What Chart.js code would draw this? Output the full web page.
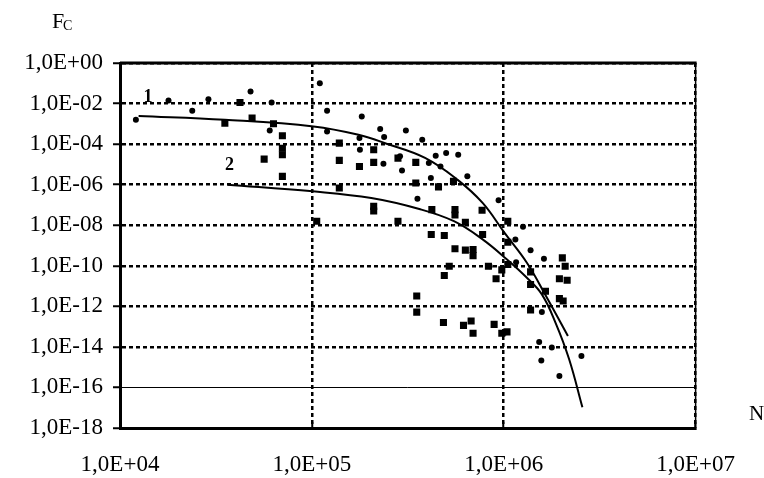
<!DOCTYPE html>
<html><head><meta charset="utf-8">
<script src="https://cdn.jsdelivr.net/npm/chart.js@4"></script>
<style>html,body{margin:0;padding:0;background:#fff;}#wrap{width:764px;height:478px;}</style>
</head><body><div id="wrap"><canvas id="c" width="764" height="478"></canvas></div>
<script>
const xTicks = [1e4, 1e5, 1e6, 1e7];
const xTickLabels = ['1,0E+04', '1,0E+05', '1,0E+06', '1,0E+07'];
const yTicks = [1e-18, 1e-16, 1e-14, 1e-12, 1e-10, 1e-8, 1e-6, 1e-4, 1e-2, 1];
const yTickLabels = ['1,0E-18', '1,0E-16', '1,0E-14', '1,0E-12', '1,0E-10', '1,0E-08', '1,0E-06', '1,0E-04', '1,0E-02', '1,0E+00'];

const circleN = [1.21e4,1.79e4,2.38e4,2.89e4,4.79e4,6.17e4,6.03e4,1.10e5,1.20e5,1.20e5,1.82e5,1.77e5,1.78e5,2.27e5,2.38e5,2.36e5,3.09e5,2.95e5,3.76e5,3.55e5,2.88e5,4.42e5,5.01e5,5.79e5,4.17e5,6.46e5,4.68e5,9.40e5,4.07e5,1.26e6,1.15e6,1.38e6,1.62e6,8.45e5,1.16e6,1.58e6,1.53e6,1.78e6,1.57e6,1.95e6,2.54e6,1.01e6];
const circleF = [1.58e-3,1.41e-2,4.47e-3,1.62e-2,3.89e-2,1.12e-2,4.68e-4,1e-1,4.47e-3,4.17e-4,2.29e-3,2.0e-4,5.25e-5,5.5e-4,2.24e-4,1.07e-5,4.68e-4,5.0e-6,1.62e-4,2.0e-7,2.51e-5,2.69e-5,3.63e-5,2.95e-5,2.14e-6,2.57e-6,7.94e-6,1.70e-7,1.17e-5,8.3e-9,2.0e-9,5.9e-10,2.19e-10,9.5e-11,1.51e-10,5.2e-13,1.74e-14,9.3e-15,2.14e-15,3.7e-16,3.55e-15,5.0e-14];

const squareN = [4.22e4,3.52e4,4.88e4,6.31e4,7.02e4,7.02e4,7.02e4,5.64e4,7.02e4,1.39e5,1.39e5,1.77e5,2.10e5,2.10e5,2.81e5,3.48e5,3.48e5,1.39e5,2.10e5,2.10e5,4.57e5,5.47e5,5.57e5,5.57e5,4.22e5,7.71e5,6.31e5,1.05e6,2.81e5,1.06e5,4.19e5,4.90e5,7.76e5,1.05e6,5.57e5,6.31e5,6.92e5,6.92e5,5.20e5,4.90e5,8.32e5,9.12e5,9.77e5,1.05e6,1.38e6,1.38e6,1.65e6,2.02e6,2.09e6,1.95e6,2.14e6,1.95e6,2.04e6,3.52e5,3.52e5,1.38e6,4.85e5,6.17e5,6.76e5,6.92e5,8.91e5,9.77e5,1.04e6];
const squareF = [1.12e-2,1.07e-3,1.91e-3,1.0e-3,2.57e-4,6.3e-5,3.0e-5,1.82e-5,2.57e-6,1.12e-4,1.58e-5,7.94e-6,5.25e-5,1.26e-5,2.04e-5,1.26e-5,1.20e-6,6.9e-7,8.5e-8,5.0e-8,7.8e-7,1.45e-6,5.9e-8,3.2e-8,5.9e-8,5.5e-8,1.41e-8,1.58e-8,1.58e-8,1.58e-8,3.47e-9,3.09e-9,3.47e-9,1.45e-9,6.9e-10,5.9e-10,6.3e-10,3.16e-10,9.5e-11,3.3e-11,9.5e-11,2.29e-11,6.3e-11,1.15e-10,5.0e-11,1.20e-11,5.6e-12,2.45e-10,9.5e-11,2.29e-11,1.95e-11,2.4e-12,1.82e-12,3.24e-12,5.2e-13,6.6e-13,1.58e-13,1.15e-13,1.91e-13,4.68e-14,1.29e-13,4.68e-14,5.5e-14];

const curve1N = [1.25e4,3.52e4,1.02e5,1.75e5,2.45e5,3.89e5,5.73e5,7.76e5,1.01e6,1.32e6,1.66e6,2.16e6];
const curve1F = [2.45e-3,1.58e-3,7.4e-4,2.88e-4,1.05e-4,2.09e-5,1.78e-6,1.26e-7,4.17e-9,1.41e-10,3.24e-12,3.47e-14];
const curve2N = [3.63e4,1.01e5,2.04e5,3.63e5,5.50e5,7.76e5,1.04e6,1.32e6,1.58e6,1.86e6,2.19e6,2.57e6];
const curve2F = [1.0e-6,4.68e-7,2.19e-7,6.3e-8,1.58e-8,2.0e-9,2.04e-10,2.57e-11,3.89e-12,1.58e-13,2.51e-15,1.05e-17];

const curveLabels = ['1', '2'];
const curveLabelN = [1.40e4, 3.72e4];
const curveLabelF = [2.04e-2, 8.9e-6];

const zip = (a, b) => a.map((v, i) => ({x: v, y: b[i]}));
const FONT = 'Liberation Serif';

const extras = {
  id: 'extras',
  afterDatasetsDraw(chart) {
    const {ctx, chartArea: ca, scales: {x, y}} = chart;
    ctx.save();
    const y16 = Math.round(y.getPixelForValue(1e-16)) + 0.5;
    ctx.strokeStyle = '#000'; ctx.lineWidth = 1; ctx.setLineDash([]);
    ctx.beginPath(); ctx.moveTo(ca.left, y16); ctx.lineTo(ca.right, y16); ctx.stroke();
    ctx.lineWidth = 3;
    ctx.beginPath(); ctx.moveTo(ca.left, ca.top); ctx.lineTo(ca.right + 1, ca.top); ctx.stroke();
    ctx.lineWidth = 1.5;
    ctx.beginPath(); ctx.moveTo(ca.right, ca.top); ctx.lineTo(ca.right, ca.bottom); ctx.stroke();
    ctx.fillStyle = '#000';
    ctx.font = 'bold 18px ' + FONT;
    ctx.textAlign = 'center'; ctx.textBaseline = 'middle';
    curveLabels.forEach((t, i) => {
      ctx.fillText(t, x.getPixelForValue(curveLabelN[i]), y.getPixelForValue(curveLabelF[i]));
    });
    ctx.textAlign = 'left'; ctx.textBaseline = 'alphabetic';
    ctx.font = '22px ' + FONT;
    ctx.fillText('F', 52, 28);
    ctx.font = '14px ' + FONT;
    ctx.fillText('C', 63, 30);
    ctx.font = '21px ' + FONT;
    ctx.fillText('N', 749, 420);
    ctx.restore();
  }
};

new Chart(document.getElementById('c'), {
  type: 'scatter',
  data: {
    datasets: [
      {data: zip(curve1N, curve1F), showLine: true, borderColor: '#000', borderWidth: 2, pointRadius: 0, tension: 0.4, order: 0},
      {data: zip(curve2N, curve2F), showLine: true, borderColor: '#000', borderWidth: 2, pointRadius: 0, tension: 0.4, order: 0},
      {data: zip(squareN, squareF), pointStyle: 'rect', pointRadius: 5, backgroundColor: '#000', borderColor: '#000', borderWidth: 0, order: 1},
      {data: zip(circleN, circleF), pointStyle: 'circle', pointRadius: 3, backgroundColor: '#000', borderColor: '#000', borderWidth: 0, order: 2}
    ]
  },
  options: {
    responsive: false,
    animation: false,
    devicePixelRatio: 1,
    layout: {padding: {top: 63, right: 41, left: 0, bottom: 0}},
    plugins: {legend: {display: false}, tooltip: {enabled: false}},
    scales: {
      x: {
        type: 'logarithmic', min: 1e4, max: 1e7,
        afterBuildTicks: s => { s.ticks = xTicks.map(v => ({value: v})); },
        afterFit: s => { s.height = 50; },
        ticks: {
          callback: (v, i) => xTickLabels[i],
          font: {family: FONT, size: 23}, color: '#000',
          autoSkip: false, maxRotation: 0, padding: 29
        },
        grid: {
          color: c => (c.index === 0 ? 'rgba(0,0,0,0)' : '#000'),
          lineWidth: 2.5, drawTicks: true, tickLength: -6, tickWidth: 2, tickColor: '#000'
        },
        border: {display: true, color: '#000', width: 3, dash: [4, 3]}
      },
      y: {
        type: 'logarithmic', min: 1e-18, max: 1,
        afterBuildTicks: s => { s.ticks = yTicks.map(v => ({value: v})); },
        afterFit: s => { s.width = 120; },
        ticks: {
          callback: (v, i) => yTickLabels[i],
          font: {family: FONT, size: 23}, color: '#000',
          autoSkip: false, padding: 10
        },
        grid: {
          color: c => ((c.index === 0 || c.index === 1) ? 'rgba(0,0,0,0)' : '#000'),
          lineWidth: 2.5, drawTicks: true, tickLength: 7, tickWidth: 2, tickColor: '#000'
        },
        border: {display: true, color: '#000', width: 3, dash: [4, 3]}
      }
    }
  },
  plugins: [extras]
});
</script></body></html>
